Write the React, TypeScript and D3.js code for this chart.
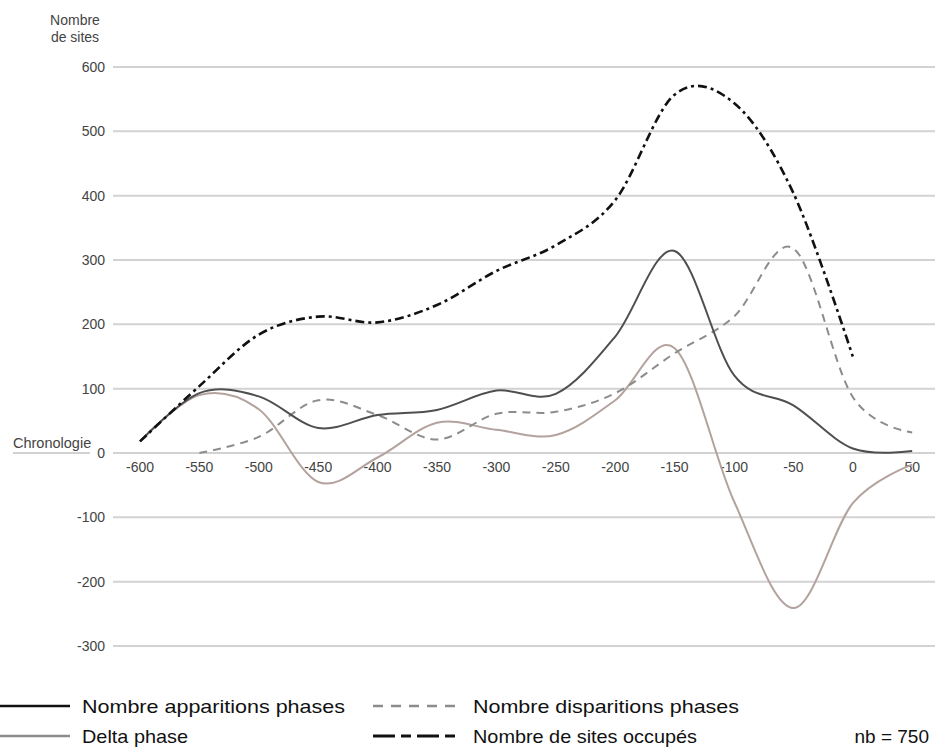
import React from 'react';
import * as d3 from 'd3';

const years = [-600, -550, -500, -450, -400, -350, -300, -250, -200, -150, -100, -50, 0, 50];
const apparitions: (number | null)[] = [18, 93, 88, 39, 59, 67, 97, 92, 181, 314, 121, 74, 7, 3];
const disparitions: (number | null)[] = [null, 0, 25, 82, 59, 21, 61, 64, 93, 155, 212, 318, 87, 32];
const delta: (number | null)[] = [18, 90, 68, -45, -7, 47, 36, 28, 82, 163, -75, -241, -78, -18];
const sitesOccupes: (number | null)[] = [18, 104, 184, 212, 203, 230, 283, 323, 393, 557, 544, 404, 150, null];
const yTicks = [-300, -200, -100, 0, 100, 200, 300, 400, 500, 600];
const xTicks = years;

const W = 935;
const H = 752;
const FONT = '"Liberation Sans", Arial, Helvetica, sans-serif';

export default function App() {
  const x = d3.scaleLinear().domain([-600, 50]).range([140, 912.2]);
  const y = d3.scaleLinear().domain([-300, 600]).range([646, 67]);

  const mk = (vals: (number | null)[]) =>
    d3
      .line<number>()
      .defined((_, i) => vals[i] !== null)
      .x((_, i) => x(years[i]))
      .y((_, i) => y(vals[i] as number))
      .curve(d3.curveCardinal.tension(0))(years) || '';

  const series = [
    { vals: delta, stroke: '#b3a29d', width: 2, dash: undefined },
    { vals: disparitions, stroke: '#8c8c8c', width: 2, dash: '8,6' },
    { vals: apparitions, stroke: '#4f4f4f', width: 2, dash: undefined },
    { vals: sitesOccupes, stroke: '#111', width: 2.6, dash: '9,4,3,4' },
  ];

  return (
    <svg
      width={W}
      height={H}
      style={{ position: 'absolute', left: 0, top: 0, background: '#fff' }}
      fontFamily={FONT}
    >
      <rect width={W} height={H} fill="#fff" />
      {yTicks.map((t) => (
        <line key={t} x1={113} x2={W} y1={y(t)} y2={y(t)} stroke="#d2d2d2" strokeWidth={2} />
      ))}
      <line x1={13} x2={90} y1={y(0)} y2={y(0)} stroke="#d2d2d2" strokeWidth={2} />
      {yTicks.map((t) => (
        <text key={t} x={105} y={y(t)} dy="0.35em" textAnchor="end" fontSize={14} fill="#444">
          {t}
        </text>
      ))}
      {xTicks.map((t) => (
        <text key={t} x={x(t)} y={472} textAnchor="middle" fontSize={14} fill="#444">
          {t}
        </text>
      ))}
      <text x={75} y={25} textAnchor="middle" fontSize={14} fill="#444">Nombre</text>
      <text x={75} y={42} textAnchor="middle" fontSize={14} fill="#444">de sites</text>
      <text x={13} y={448} fontSize={14.5} fill="#444">Chronologie</text>

      {series.map((s, i) => (
        <path
          key={i}
          d={mk(s.vals)}
          fill="none"
          stroke={s.stroke}
          strokeWidth={s.width}
          strokeDasharray={s.dash}
          strokeLinejoin="round"
        />
      ))}

      <g fontSize={19} fill="#111">
        <line x1={0} x2={70} y1={706} y2={706} stroke="#111" strokeWidth={2.5} />
        <text x={82} y={706} dy="0.35em" textLength={263} lengthAdjust="spacingAndGlyphs">Nombre apparitions phases</text>
        <line x1={373} x2={458} y1={706} y2={706} stroke="#8c8c8c" strokeWidth={2.5} strokeDasharray="10,8" />
        <text x={473} y={706} dy="0.35em" textLength={266} lengthAdjust="spacingAndGlyphs">Nombre disparitions phases</text>

        <line x1={0} x2={70} y1={736} y2={736} stroke="#8c8c8c" strokeWidth={2.5} />
        <text x={82} y={736} dy="0.35em" textLength={106} lengthAdjust="spacingAndGlyphs">Delta phase</text>
        <line x1={373} x2={458} y1={736} y2={736} stroke="#111" strokeWidth={3} strokeDasharray="22,6,10,6" />
        <text x={473} y={736} dy="0.35em" textLength={224} lengthAdjust="spacingAndGlyphs">Nombre de sites occupés</text>
        <text x={929} y={736} dy="0.35em" textAnchor="end">nb = 750</text>
      </g>
    </svg>
  );
}
